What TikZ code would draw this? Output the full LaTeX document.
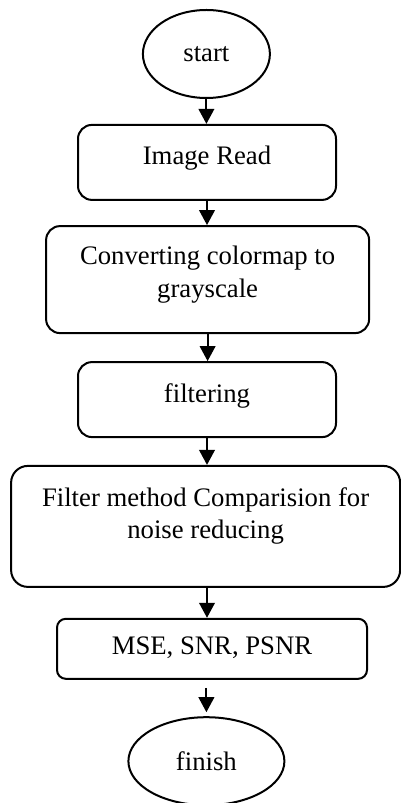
\documentclass[tikz,border=0pt]{standalone}
\usepackage{fontspec}
\setmainfont{Liberation Serif}
\usetikzlibrary{shapes.geometric,arrows.meta}

\begin{document}
\begin{tikzpicture}[line width=.05cm,>={Triangle[width=.39cm,length=.375cm]},
    font=\fontsize{19}{22.8}\selectfont,
    box/.style={draw,rounded corners=.35cm,inner sep=0pt,align=center},
    term/.style={draw,ellipse,inner sep=0pt,minimum height=2.2cm}]
            \useasboundingbox (0,0) rectangle (10.025,-20.075);
            \node[term,minimum width=3.175cm] (B0) at (5.16,-1.35) {start};
            \node[box,minimum width=6.45cm,minimum height=1.875cm,text depth=10.4pt] (B1) at (5.175,-4.06) {Image Read};
            \node[box,minimum width=8.075cm,minimum height=2.675cm,text depth=11.2pt] (B2) at (5.19,-6.99) {Converting colormap to\\grayscale};
            \node[box,minimum width=6.45cm,minimum height=1.875cm,text depth=9pt] (B3) at (5.175,-9.99) {filtering};
            \node[box,rounded corners=.42cm,minimum width=9.725cm,minimum height=3.025cm,text depth=18.3pt] (B4) at (5.14,-13.16) {Filter method Comparision for\\noise reducing};
            \node[box,rounded corners=.22cm,minimum width=7.75cm,minimum height=1.5cm,text depth=5pt] (B5) at (5.3,-16.22) {MSE, SNR, PSNR};
            \node[term,minimum width=3.9cm] (B6) at (5.16,-19.03) {finish};
            \draw[->] (B0.south) -- (B0.south |- B1.north);
            \draw[->] (B1.south) -- (B1.south |- B2.north);
            \draw[->] (B2.south) -- (B2.south |- B3.north);
            \draw[->] (B3.south) -- (B3.south |- B4.north);
            \draw[->] (B4.south -| B3.south) -- (B3.south |- B5.north);
            \draw[->,shorten <=.2cm,shorten >=.1cm] (B5.south -| B6.north) -- (B6.north);
\end{tikzpicture}
\end{document}
